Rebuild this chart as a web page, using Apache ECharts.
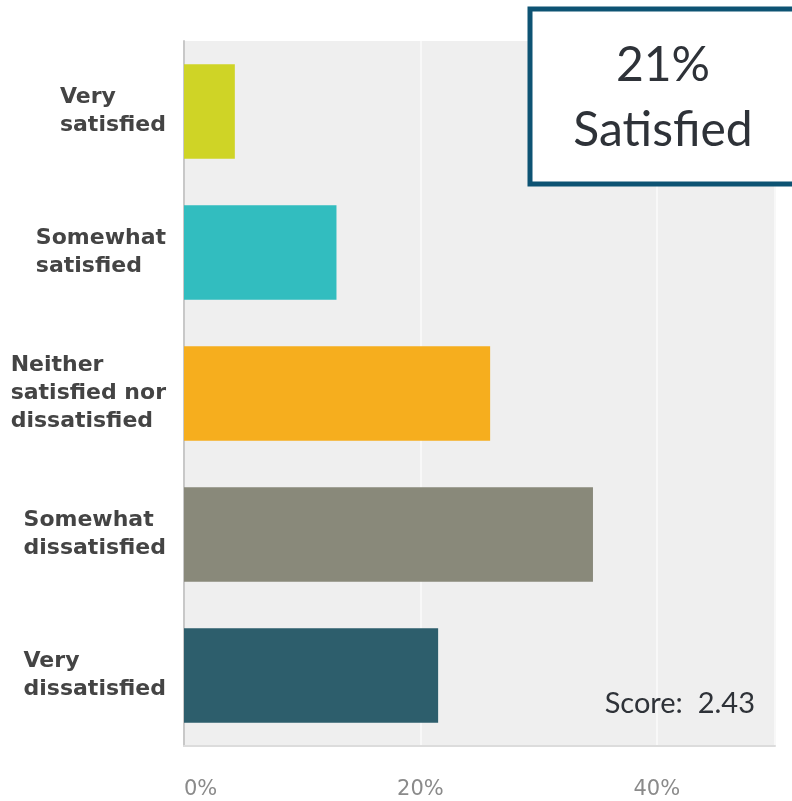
<!DOCTYPE html>
<html>
<head>
<meta charset="utf-8">
<script src="https://cdn.jsdelivr.net/npm/echarts@6/dist/echarts.min.js"></script>
<style>
html,body{margin:0;padding:0;background:#fff;}
#chart{width:792px;height:801px;}
</style>
</head>
<body>
<div id="chart"></div>
<script>
const categories = ['Very\nsatisfied', 'Somewhat\nsatisfied', 'Neither\nsatisfied nor\ndissatisfied', 'Somewhat\ndissatisfied', 'Very\ndissatisfied'];
const values = [4.3, 12.9, 25.9, 34.6, 21.5];
const barColors = ['#cfd426', '#32bdbf', '#f6ae1e', '#89897a', '#2d5e6c'];
const xTicks = [0, 20, 40];
const calloutLines = ['21%', 'Satisfied'];
const scoreText = 'Score:  2.43';

const chart = echarts.init(document.getElementById('chart'), null, {renderer: 'canvas'});
chart.setOption({
  animation: false,
  backgroundColor: '#ffffff',
  grid: {
    left: 184, top: 41, right: 17, bottom: 55,
    show: true, backgroundColor: '#efefef', borderWidth: 0
  },
  xAxis: {
    type: 'value', min: 0, max: 50, interval: 20,
    axisLine: {show: true, lineStyle: {color: '#dcdcdc', width: 2}},
    axisTick: {show: false},
    splitLine: {show: true, lineStyle: {color: '#f8f8f8', width: 2}},
    axisLabel: {
      margin: 33,
      color: '#8a8a8a',
      fontFamily: 'DejaVu Sans, sans-serif',
      fontSize: 21,
      alignMinLabel: 'left',
      formatter: function (v) { return xTicks.indexOf(v) >= 0 ? v + '%' : ''; }
    }
  },
  yAxis: {
    type: 'category', inverse: true, data: categories,
    axisLine: {show: true, lineStyle: {color: '#c8c8c8', width: 2}},
    axisTick: {show: false},
    axisLabel: {
      margin: 18,
      align: 'right',
      formatter: function (v) {
        return v.split('\n').map(function (l) { return '{l|' + l + '}'; }).join('\n');
      },
      rich: {
        l: {
          align: 'left',
          color: '#444444',
          fontWeight: 'bold',
          fontFamily: 'DejaVu Sans, sans-serif',
          fontSize: 22,
          lineHeight: 28
        }
      }
    }
  },
  series: [{
    type: 'bar',
    data: values.map((v, i) => ({value: v, itemStyle: {color: barColors[i]}})),
    barCategoryGap: '33%',
    silent: true
  }],
  graphic: [
    {
      type: 'rect', z: 100,
      shape: {x: 530, y: 9, width: 280, height: 175},
      style: {fill: '#ffffff', stroke: '#0d5373', lineWidth: 5}
    },
    {
      type: 'text', z: 101, x: 663, y: 66,
      style: {text: calloutLines[0], fill: '#2e3238', font: '48px Lato, "Open Sans", sans-serif', textAlign: 'center', textVerticalAlign: 'middle'}
    },
    {
      type: 'text', z: 101, x: 663, y: 131,
      style: {text: calloutLines[1], fill: '#2e3238', font: '48px Lato, "Open Sans", sans-serif', textAlign: 'center', textVerticalAlign: 'middle'}
    },
    {
      type: 'text', z: 101, x: 755, y: 704,
      style: {text: scoreText, fill: '#2e3238', font: '29px Lato, "Open Sans", sans-serif', textAlign: 'right', textVerticalAlign: 'middle'}
    }
  ]
});
</script>
</body>
</html>
